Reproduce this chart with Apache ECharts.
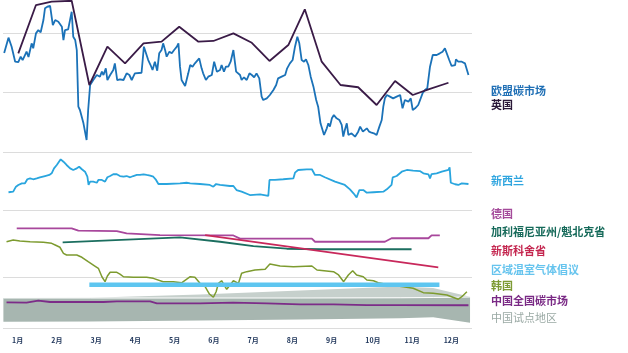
<!DOCTYPE html>
<html>
<head>
<meta charset="utf-8">
<script src="https://cdn.jsdelivr.net/npm/echarts@6/dist/echarts.min.js"></script>
<style>
  html, body { margin: 0; padding: 0; background: #fff; }
  #chart { width: 628px; height: 353px; }
</style>
</head>
<body>
<div id="chart"></div>
<script>
// x = 月份（小数），y = 各面板内的相对价格指数
const monthTicks = [1, 2, 3, 4, 5, 6, 7, 8, 9, 10, 11, 12];

const euEts = [
  [0.80, 83.2], [0.91, 96.1], [0.99, 88.5], [1.08, 75.9], [1.16, 75.6], [1.22, 80.1], [1.27, 77.3],
  [1.33, 81.5], [1.37, 84.3], [1.42, 79.8], [1.50, 91.3], [1.54, 87.1], [1.61, 99.7], [1.67, 102.5],
  [1.73, 100.6], [1.80, 110.9], [1.84, 120.8], [1.90, 122.1], [1.97, 122.7], [2.01, 122.1], [2.04, 106.7],
  [2.10, 110.9], [2.18, 109.5], [2.27, 105.3], [2.31, 94.1], [2.35, 102.5], [2.43, 103.1], [2.48, 102.5],
  [2.52, 117.9], [2.56, 96.9], [2.61, 94.1], [2.65, 85.7], [2.69, 38.1], [2.73, 35.3], [2.82, 24.1],
  [2.90, 10.1], [2.94, 35.3], [2.99, 56.3], [3.07, 60.5], [3.16, 64.7], [3.24, 63.3], [3.29, 67.5],
  [3.33, 64.7], [3.39, 70.3], [3.43, 60.5], [3.50, 64.7], [3.58, 68.9], [3.62, 74.5], [3.68, 60.5],
  [3.75, 61.1], [3.84, 60.5], [3.88, 59.1], [3.92, 66.1], [3.99, 64.7], [4.05, 60.5], [4.09, 63.3],
  [4.13, 66.1], [4.30, 66.6], [4.36, 88.5], [4.41, 89.9], [4.47, 77.3], [4.53, 73.1], [4.58, 68.9],
  [4.64, 75.9], [4.70, 68.3], [4.75, 82.9], [4.81, 85.7], [4.85, 91.3], [4.90, 85.7], [4.94, 80.1],
  [5.01, 84.3], [5.07, 82.9], [5.13, 85.7], [5.20, 88.5], [5.24, 91.3], [5.28, 71.7], [5.32, 60.5],
  [5.41, 55.5], [5.49, 66.1], [5.54, 73.1], [5.60, 71.7], [5.66, 74.5], [5.71, 75.9], [5.77, 78.7],
  [5.83, 70.3], [5.87, 66.1], [5.94, 60.5], [6.00, 63.3], [6.09, 64.7], [6.15, 75.9], [6.22, 67.5],
  [6.30, 68.9], [6.34, 73.1], [6.40, 67.5], [6.45, 71.7], [6.51, 71.7], [6.57, 75.9], [6.64, 85.7],
  [6.66, 87.1], [6.71, 67.5], [6.81, 64.7], [6.85, 60.5], [6.91, 62.8], [6.98, 60.5], [7.05, 66.1],
  [7.11, 64.7], [7.17, 62.8], [7.23, 66.1], [7.30, 61.9], [7.36, 46.5], [7.40, 43.7], [7.49, 45.1],
  [7.53, 43.7], [7.57, 47.9], [7.66, 52.1], [7.73, 56.3], [7.78, 61.9], [7.87, 63.3], [7.96, 64.7],
  [8.01, 70.3], [8.08, 74.5], [8.15, 77.3], [8.21, 88.5], [8.27, 96.9], [8.32, 91.3], [8.38, 77.3],
  [8.44, 75.9], [8.49, 77.9], [8.55, 73.1], [8.61, 63.3], [8.68, 54.9], [8.75, 43.7], [8.80, 38.1],
  [8.86, 24.1], [8.95, 14.3], [9.02, 19.9], [9.06, 24.1], [9.10, 21.3], [9.15, 28.3], [9.20, 31.1],
  [9.27, 28.3], [9.34, 26.9], [9.40, 22.7], [9.44, 12.9], [9.48, 18.5], [9.53, 24.1], [9.57, 14.3],
  [9.65, 15.7], [9.74, 12.9], [9.82, 17.1], [9.87, 21.3], [9.94, 17.1], [9.99, 15.7], [10.04, 19.9],
  [10.10, 17.1], [10.16, 16.2], [10.22, 15.7], [10.29, 14.3], [10.36, 21.3], [10.42, 26.9], [10.46, 38.1],
  [10.50, 45.1], [10.55, 47.9], [10.63, 46.5], [10.71, 45.1], [10.80, 46.5], [10.89, 47.9], [10.95, 36.7],
  [11.01, 43.7], [11.10, 42.3], [11.16, 45.1], [11.21, 35.3], [11.27, 36.7], [11.35, 39.5], [11.39, 40.9],
  [11.46, 49.3], [11.52, 52.1], [11.58, 53.5], [11.65, 71.7], [11.72, 81.5], [11.82, 81.5], [11.90, 82.9],
  [11.97, 84.3], [12.03, 87.1], [12.08, 85.7], [12.14, 77.3], [12.20, 72.3], [12.29, 73.1], [12.31, 77.9],
  [12.37, 75.9], [12.46, 75.9], [12.54, 74.5], [12.63, 64.7]
];

const uk = [
  [1.16, 82.9], [1.61, 123.5], [2.01, 126.3], [2.52, 127.1], [2.97, 56.3], [3.43, 88.5], [3.88, 74.5],
  [4.35, 91.3], [4.81, 92.7], [5.26, 105.3], [5.75, 92.7], [6.13, 93.3], [6.64, 99.7], [7.11, 91.8],
  [7.56, 76.5], [8.04, 89.9], [8.46, 119.9], [8.89, 75.9], [9.37, 56.3], [9.82, 54.4], [10.29, 39.5],
  [10.76, 59.7], [11.21, 47.9], [11.61, 52.7], [12.12, 58.2]
];

const newZealand = [
  [0.91, 15.3], [1.03, 15.8], [1.10, 20.1], [1.16, 21.6], [1.25, 23.0], [1.33, 23.0], [1.39, 26.5],
  [1.46, 27.3], [1.54, 26.5], [1.63, 27.3], [1.71, 28.2], [1.84, 29.3], [1.95, 30.2], [2.01, 31.6],
  [2.07, 35.9], [2.14, 38.8], [2.24, 43.7], [2.31, 41.6], [2.39, 38.8], [2.48, 35.9], [2.56, 34.5],
  [2.65, 35.9], [2.71, 37.3], [2.78, 35.1], [2.86, 33.0], [2.92, 28.7], [2.95, 21.6], [2.99, 24.4],
  [3.07, 24.4], [3.16, 23.5], [3.20, 25.9], [3.29, 25.9], [3.37, 24.4], [3.43, 28.2], [3.50, 29.3],
  [3.58, 30.8], [3.67, 30.8], [3.75, 29.3], [3.84, 28.7], [3.92, 29.3], [4.01, 28.2], [4.09, 29.3],
  [4.18, 30.2], [4.26, 30.2], [4.35, 30.8], [4.43, 30.2], [4.52, 29.6], [4.60, 28.7], [4.67, 25.9],
  [4.73, 22.4], [4.94, 22.4], [5.28, 23.0], [5.45, 23.5], [5.54, 23.0], [5.79, 22.4], [6.04, 21.6],
  [6.13, 20.1], [6.20, 22.4], [6.30, 21.6], [6.55, 20.7], [6.64, 20.7], [6.72, 17.2], [6.85, 15.8],
  [7.06, 12.9], [7.32, 13.5], [7.53, 12.1], [7.56, 25.9], [7.70, 25.9], [7.91, 26.5], [8.17, 27.3],
  [8.21, 32.2], [8.29, 34.5], [8.51, 35.1], [8.64, 35.1], [8.68, 35.9], [8.72, 30.2], [8.85, 30.2],
  [8.97, 28.2], [9.23, 24.4], [9.48, 21.6], [9.61, 17.8], [9.70, 14.4], [9.78, 10.9], [9.85, 17.2],
  [9.95, 17.2], [10.04, 14.9], [10.21, 15.3], [10.46, 15.8], [10.55, 17.8], [10.67, 21.6], [10.70, 28.2],
  [10.80, 29.3], [10.93, 33.0], [11.06, 34.5], [11.22, 33.9], [11.39, 33.6], [11.48, 31.6], [11.61, 30.8],
  [11.65, 27.3], [11.69, 31.0], [11.82, 31.6], [11.95, 33.0], [12.12, 34.5], [12.15, 36.8], [12.18, 23.5],
  [12.29, 22.2], [12.37, 21.6], [12.46, 23.0], [12.63, 22.4]
];

const germany = [
  [1.12, 36.3], [2.52, 36.3], [2.69, 34.6], [3.67, 34.3], [3.92, 32.6], [4.77, 31.3], [6.64, 31.0],
  [6.81, 28.6], [8.64, 28.6], [8.72, 26.3], [10.50, 26.3], [10.67, 28.9], [11.61, 28.9], [11.69, 31.1],
  [11.90, 31.1]
];

const californiaQuebec = [
  [2.29, 25.9], [5.28, 29.6], [6.30, 26.3], [7.15, 23.1], [8.00, 21.1], [8.85, 20.7], [11.18, 20.7]
];

const novaScotia = [[5.92, 31.3], [11.86, 7.2]];

const korea = [
  [0.86, 26.3], [1.03, 27.6], [1.20, 26.9], [1.46, 26.3], [1.80, 25.9], [2.01, 25.1], [2.10, 23.9],
  [2.22, 22.2], [2.31, 17.7], [2.39, 16.4], [2.65, 16.4], [2.78, 14.7], [2.94, 11.4], [3.11, 8.2],
  [3.20, 6.5], [3.29, 0.2], [3.37, -3.5], [3.43, 0.7], [3.50, 3.5], [3.67, 3.5], [3.75, 2.2],
  [3.84, 0.2], [4.09, -0.2], [4.43, -0.2], [4.60, -1.0], [4.85, -3.5], [5.11, -3.5], [5.32, -4.3],
  [5.54, 0.2], [5.66, -0.2], [5.79, -4.7], [5.92, -7.2], [6.03, -12.7], [6.13, -15.1], [6.20, -11.0],
  [6.26, -4.7], [6.34, -2.8], [6.47, -9.2], [6.64, -2.8], [6.77, -4.7], [6.85, 2.8], [6.98, 4.0],
  [7.19, 5.2], [7.45, 5.7], [7.57, 9.7], [7.70, 9.0], [7.83, 8.2], [8.17, 7.7], [8.64, 8.2],
  [8.77, 5.2], [9.19, 4.0], [9.32, 1.5], [9.45, -3.5], [9.57, 1.5], [9.68, 4.7], [9.78, 1.5],
  [9.95, 0.2], [10.04, -2.2], [10.21, -2.8], [10.33, -4.3], [10.63, -6.0], [10.97, -7.2], [11.22, -8.4],
  [11.48, -11.7], [11.73, -12.2], [12.08, -13.4], [12.37, -16.6], [12.46, -14.7], [12.59, -11.0]
];

const rggi = [[2.97, 42.5], [11.89, 42.5]];

const chinaNational = [
  [0.86, 25.2], [1.37, 24.8], [1.67, 26.8], [1.97, 25.5], [2.39, 25.5], [3.33, 25.5], [3.67, 26.2],
  [4.52, 26.2], [4.69, 24.2], [5.79, 24.2], [6.63, 24.8], [7.49, 24.2], [8.34, 23.2], [9.19, 23.2],
  [10.04, 22.5], [10.89, 22.5], [12.63, 22.3]
];

// 中国试点地区：价格区间（低 / 中 / 高）
const pilotMonths = [0.78, 2.99, 5.79, 8.34, 10.89, 11.73, 12.67];
const pilotLow = [6.2, 6.4, 7.4, 8.3, 9.5, 10.5, 5.2];
const pilotMid = [29.4, 29.4, 29.4, 29.4, 29.6, 29.9, 30.4];
const pilotHigh = [29.4, 29.7, 32.8, 36.8, 40.7, 39.2, 30.7];

const seriesNames = ['欧盟碳市场', '英国', '新西兰', '德国', '加利福尼亚州/魁北克省', '新斯科舍省',
  '区域温室气体倡议', '韩国', '中国全国碳市场', '中国试点地区'];
const seriesColors = ['#1b72b8', '#3a1b47', '#29a5de', '#a8479c', '#1b6e5f', '#c8285b',
  '#5ec6f0', '#7d9b2f', '#7c2c88', '#a7b6b0'];
const labelColors = ['#1f6fb5', '#2a1838', '#2fa5df', '#a44a9a', '#166a5a', '#c4264f',
  '#66c4ee', '#7d9b34', '#7a2a85', '#9aa9a4'];

const chart = echarts.init(document.getElementById('chart'));

const grids = [
  { left: 3, right: 156, top: 33, height: 119 },
  { left: 3, right: 156, top: 152, height: 58 },
  { left: 3, right: 156, top: 210, height: 67 },
  { left: 3, right: 156, top: 277, height: 51 }
];

const xAxes = grids.map((g, i) => ({
  type: 'value', gridIndex: i, min: 0.77, max: 12.72,
  show: i === 3,
  axisLine: { show: false }, axisTick: { show: false }, splitLine: { show: false },
  axisLabel: {
    show: i === 3, customValues: monthTicks, formatter: v => v + '月',
    align: 'left', margin: 9, fontSize: 7, fontWeight: 'bold', color: '#23395d',
    fontFamily: 'Noto Sans CJK SC'
  }
}));

const yMax = [100, 50, 50, 50];
const yAxes = grids.map((g, i) => ({
  type: 'value', gridIndex: i, min: 0, max: yMax[i], interval: 50,
  axisLine: { show: false }, axisTick: { show: false }, axisLabel: { show: false },
  splitLine: { show: true, lineStyle: { color: '#dcdcdc', width: 1 } }
}));

function line(idx, data, gi, width, z) {
  return {
    name: seriesNames[idx], type: 'line', xAxisIndex: gi, yAxisIndex: gi, data,
    showSymbol: false, symbol: 'none', clip: false, z: z || 2,
    lineStyle: { color: seriesColors[idx], width: width || 1.8 }
  };
}

// 价格区间用多边形画出（上沿、下沿都经过坐标轴换算）
function band(name, lower, upper, color) {
  return {
    name, type: 'custom', coordinateSystem: 'cartesian2d', xAxisIndex: 3, yAxisIndex: 3,
    data: [[pilotMonths[0], lower[0]]], silent: true, z: 1,
    renderItem: (params, api) => {
      const top = pilotMonths.map((m, i) => api.coord([m, upper[i]]));
      const bottom = pilotMonths.map((m, i) => api.coord([m, lower[i]])).reverse();
      return { type: 'polygon', shape: { points: top.concat(bottom) }, style: { fill: color } };
    }
  };
}

const series = [
  band(seriesNames[9], pilotLow, pilotMid, '#a7b6b0'),
  band('pilot-upper', pilotMid, pilotHigh, '#c6d0cc'),
  {
    name: 'pilot-mid', type: 'line', xAxisIndex: 3, yAxisIndex: 3, z: 1, symbol: 'none',
    data: pilotMonths.map((m, i) => [m, pilotMid[i]]),
    lineStyle: { color: '#ffffff', width: 1 }
  },
  line(0, euEts, 0, 1.8),
  line(1, uk, 0, 1.8, 3),
  line(2, newZealand, 1, 1.8),
  line(3, germany, 2, 1.8),
  line(4, californiaQuebec, 2, 1.8),
  line(5, novaScotia, 2, 1.8, 3),
  line(7, korea, 2, 1.5, 2),
  line(6, rggi, 3, 4.5, 4),
  line(8, chinaNational, 3, 1.8, 5)
];

const labelY = [92.5, 106, 182, 215, 233, 252, 271, 287, 302, 319];
const graphic = seriesNames.map((name, i) => ({
  type: 'text', left: 491, top: labelY[i] - 7, silent: true,
  style: {
    text: name, fill: labelColors[i], fontSize: 11,
    fontWeight: i === 9 ? 'normal' : 'bold', fontFamily: 'Noto Sans CJK SC'
  }
}));

chart.setOption({
  animation: false,
  backgroundColor: '#ffffff',
  grid: grids,
  xAxis: xAxes,
  yAxis: yAxes,
  series,
  graphic
});
</script>
</body>
</html>
